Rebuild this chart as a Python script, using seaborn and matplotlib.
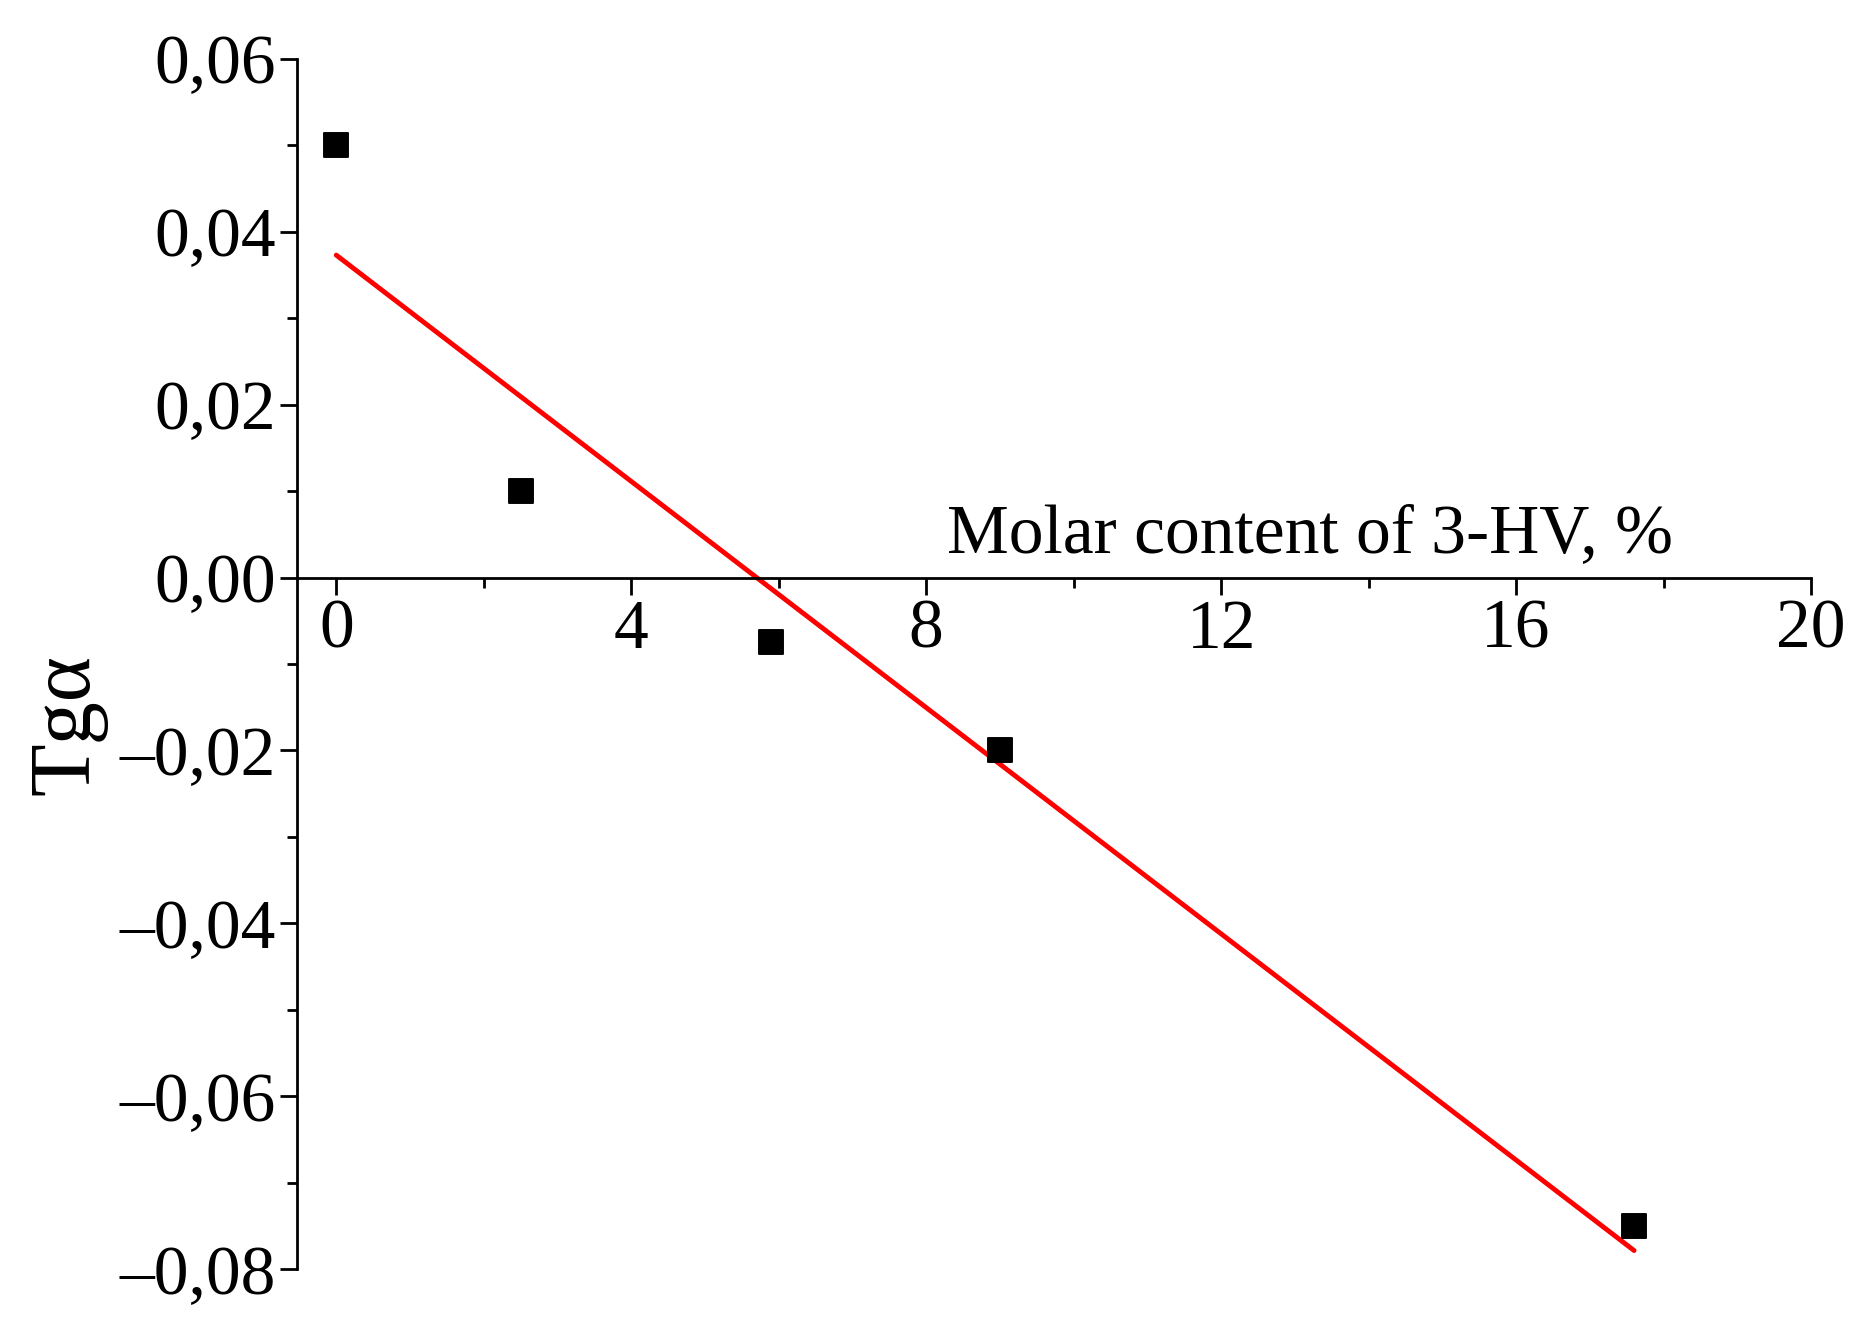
import matplotlib
matplotlib.use("Agg")
import matplotlib.pyplot as plt
import numpy as np
import seaborn as sns
from matplotlib.ticker import MultipleLocator

# data
hv_content = [0.0, 2.5, 5.9, 9.0, 17.6]
tg_alpha = [0.050, 0.010, -0.0075, -0.020, -0.075]

sns.set_theme(style="ticks")
plt.rcParams['font.family'] = ['Liberation Serif', 'DejaVu Serif']
plt.rcParams.update({'text.color': 'black', 'xtick.color': 'black', 'ytick.color': 'black',
                     'axes.labelcolor': 'black', 'axes.edgecolor': 'black'})

fig = plt.figure(figsize=(18.69, 13.32), dpi=100)
ax = fig.add_axes([0.159, 0.047, 0.81, 0.909])

sns.scatterplot(x=hv_content, y=tg_alpha, marker='s', s=300, color='black',
                edgecolor='black', ax=ax, zorder=3)

# linear fit
k, b = np.polyfit(hv_content, tg_alpha, 1)
fit_x = np.array([min(hv_content), max(hv_content)])
sns.lineplot(x=fit_x, y=k * fit_x + b, color='red', linewidth=3.5, ax=ax)

ax.set_xlim(-0.53, 20)
ax.set_ylim(-0.08, 0.06)
ax.spines['left'].set_position(('data', -0.53))
ax.spines['bottom'].set_position(('data', 0))
ax.spines['top'].set_visible(False)
ax.spines['right'].set_visible(False)
for s in ['left', 'bottom']:
    ax.spines[s].set_linewidth(2)

ax.xaxis.set_minor_locator(MultipleLocator(2))
ax.yaxis.set_major_locator(MultipleLocator(0.02))
ax.yaxis.set_minor_locator(MultipleLocator(0.01))
ax.tick_params(which='major', length=12, width=2, labelsize=50, direction='out')
ax.tick_params(which='minor', length=7, width=2, direction='out')
ax.set_xticks([0, 4, 8, 12, 16, 20])
ax.set_xticklabels(['0', '4', '8', '12', '16', '20'])
ax.set_yticklabels([f"{v:.2f}".replace('.', ',').replace('-', '–') for v in ax.get_yticks()])

ax.set_ylabel('Tgα', fontsize=62)
ax.yaxis.set_label_coords(-0.125, 0.45)
ax.text(13.2, 0.0012, 'Molar content of 3-HV, %', fontsize=50, ha='center', va='bottom')

fig.savefig('out.png', dpi=100)
